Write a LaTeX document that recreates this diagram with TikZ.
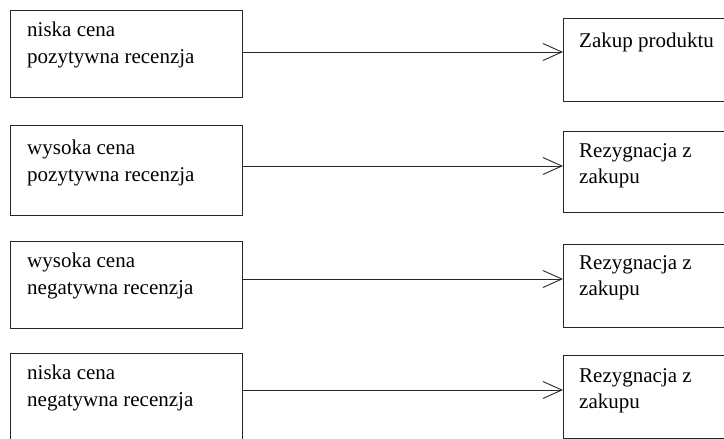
\documentclass[tikz,border=0pt]{standalone}
\usepackage{fontspec}
\setmainfont{Liberation Serif}
\usetikzlibrary{arrows.meta}
\begin{document}
\begin{tikzpicture}[x=1pt,y=-1pt,
  box/.style={draw=black!85, line width=0.9pt, inner sep=0pt, outer sep=0pt, anchor=north west, minimum width=#1},
  box/.default=232pt,
  txt/.style={anchor=north west, inner sep=0pt, align=left, font=\fontsize{21pt}{26.5pt}\selectfont},
  arr/.style={draw=black!85, line width=0.9pt, -{Straight Barb[length=19pt,width=17pt,line width=0.9pt]}}
]
\clip (0,0) rectangle (724,439);
\fill[white] (0,0) rectangle (724,439);
% left boxes
\node[box, minimum height=87pt] (l1) at (10,10) {};
\node[box, minimum height=90pt] (l2) at (10,125) {};
\node[box, minimum height=87pt] (l3) at (10,241) {};
\node[box, minimum height=95pt] (l4) at (10,353) {};
% right boxes
\node[box=170pt, minimum height=83pt] (r1) at (563,18) {};
\node[box=170pt, minimum height=81pt] (r2) at (563,131) {};
\node[box=170pt, minimum height=83pt] (r3) at (563,244) {};
\node[box=170pt, minimum height=83pt] (r4) at (563,355) {};
% texts
\node[txt] (t1) at ([shift={(17,12)}]l1.north west) {niska cena\\pozytywna recenzja};
\node[txt] (t2) at ([shift={(17,15)}]l2.north west) {wysoka cena\\pozytywna recenzja};
\node[txt] (t3) at ([shift={(17,12)}]l3.north west) {wysoka cena\\negatywna recenzja};
\node[txt] (t4) at ([shift={(17,12)}]l4.north west) {niska cena\\negatywna recenzja};
\node[txt] (u1) at ([shift={(16,15)}]r1.north west) {Zakup produktu};
\node[txt] (u2) at ([shift={(16,12)}]r2.north west) {Rezygnacja z\\zakupu};
\node[txt] (u3) at ([shift={(16,11)}]r3.north west) {Rezygnacja z\\zakupu};
\node[txt] (u4) at ([shift={(16,13)}]r4.north west) {Rezygnacja z\\zakupu};
% arrow levels
\coordinate (a1) at (0,52);
\coordinate (a2) at (0,166);
\coordinate (a3) at (0,279);
\coordinate (a4) at (0,390);
\draw[arr] (l1.east |- a1) -- (r1.west |- a1);
\draw[arr] (l2.east |- a2) -- (r2.west |- a2);
\draw[arr] (l3.east |- a3) -- (r3.west |- a3);
\draw[arr] (l4.east |- a4) -- (r4.west |- a4);
\end{tikzpicture}
\end{document}
